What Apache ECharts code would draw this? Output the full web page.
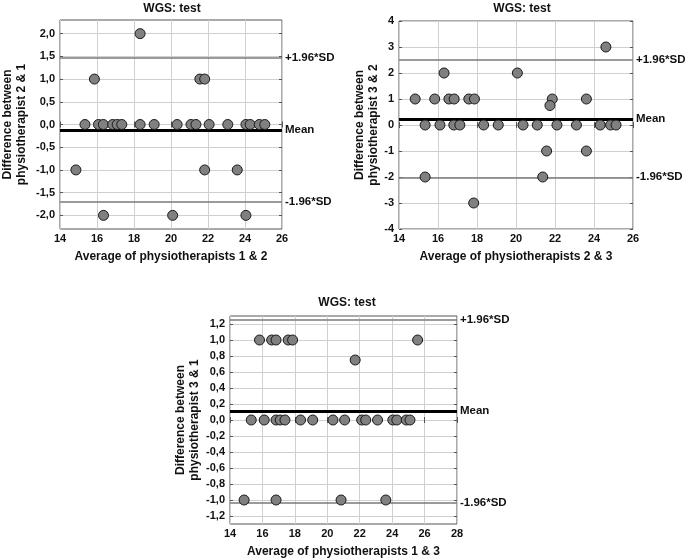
<!DOCTYPE html>
<html><head><meta charset="utf-8">
<script src="https://cdn.jsdelivr.net/npm/echarts@6/dist/echarts.min.js"></script>
<style>html,body{margin:0;padding:0;background:#fff}#c{width:685px;height:560px}</style>
</head><body><div id="c"></div>
<script>
// Panel 1: physiotherapist 2 vs 1
const p1x = [18.33, 15.86, 21.56, 21.82, 15.35, 16.08, 16.34, 16.85, 17.09, 17.34, 18.33, 19.09, 20.33, 21.08, 21.35, 22.06, 23.07, 24.05, 24.28, 24.77, 25.07, 14.86, 21.82, 23.58, 16.35, 20.09, 24.05];
const p1y = [2, 1, 1, 1, 0, 0, 0, 0, 0, 0, 0, 0, 0, 0, 0, 0, 0, 0, 0, 0, 0, -1, -1, -1, -2, -2, -2];
const p1lines = {upper: 1.46, mean: -0.115, lower: -1.70};
const p1yTicks = [-2, -1.5, -1, -0.5, 0, 0.5, 1, 1.5, 2];
const p1xTicks = [14, 16, 18, 20, 22, 24, 26];

// Panel 2: physiotherapist 3 vs 2
const p2x = [24.61, 16.31, 20.07, 14.83, 15.83, 16.56, 16.83, 17.58, 17.87, 21.86, 23.61, 21.74, 15.34, 16.10, 16.81, 17.12, 18.34, 19.09, 20.36, 21.09, 22.10, 23.10, 24.32, 24.85, 25.13, 21.57, 23.61, 15.34, 21.37, 17.83];
const p2y = [3, 2, 2, 1, 1, 1, 1, 1, 1, 1, 1, 0.75, 0, 0, 0, 0, 0, 0, 0, 0, 0, 0, 0, 0, 0, -1, -1, -2, -2, -3];
const p2lines = {upper: 2.5, mean: 0.245, lower: -2.01};
const p2yTicks = [-4, -3, -2, -1, 0, 1, 2, 3, 4];
const p2xTicks = [14, 16, 18, 20, 22, 24, 26];

// Panel 3: physiotherapist 3 vs 1
const p3x = [15.82, 16.57, 16.84, 17.59, 17.86, 25.57, 21.72, 15.31, 16.11, 16.84, 17.10, 17.39, 18.35, 19.10, 20.35, 21.07, 22.12, 22.37, 23.10, 24.04, 24.29, 24.87, 25.10, 14.87, 16.84, 20.85, 23.61];
const p3y = [1, 1, 1, 1, 1, 1, 0.75, 0, 0, 0, 0, 0, 0, 0, 0, 0, 0, 0, 0, 0, 0, 0, 0, -1, -1, -1, -1];
const p3lines = {upper: 1.254, mean: 0.11, lower: -1.033};
const p3yTicks = [-1.2, -1, -0.8, -0.6, -0.4, -0.2, 0, 0.2, 0.4, 0.6, 0.8, 1, 1.2];
const p3xTicks = [14, 16, 18, 20, 22, 24, 26, 28];

const titles = ['WGS: test', 'WGS: test', 'WGS: test'];
const xNames = ['Average of physiotherapists 1 & 2', 'Average of physiotherapists 2 & 3', 'Average of physiotherapists 1 & 3'];
const yNames = ['Difference between\nphysiotherapist 2 & 1', 'Difference between\nphysiotherapist 3 & 2', 'Difference between\nphysiotherapist 3 & 1'];
const lineLabels = ['+1.96*SD', 'Mean', '-1.96*SD'];

const FONT = '"Liberation Sans", Arial, sans-serif';
const panels = [
  {x: p1x, y: p1y, lines: p1lines, yTicks: p1yTicks, xTicks: p1xTicks, ymin: -2.3, ymax: 2.3, dec: 1,
   grid: {left: 53, top: 20, width: 229, height: 209}, tx: 167, ty: -2, yGap: 31},
  {x: p2x, y: p2y, lines: p2lines, yTicks: p2yTicks, xTicks: p2xTicks, ymin: -4, ymax: 4, dec: 0,
   grid: {left: 399, top: 21, width: 234, height: 208}, tx: 517, ty: -2, yGap: 17},
  {x: p3x, y: p3y, lines: p3lines, yTicks: p3yTicks, xTicks: p3xTicks, ymin: -1.3, ymax: 1.3, dec: 1,
   grid: {left: 230, top: 316, width: 227, height: 208}, tx: 342, ty: 292, yGap: 28}
];

function fmt(v, dec) { return v.toFixed(dec).replace('.', ','); }
const labelStyle = {fontFamily: FONT, fontSize: 11, fontWeight: 'bold', color: '#111'};
const tickStyle = {show: true, inside: true, length: 3, lineStyle: {color: '#555', width: 1}};

const xAxes = [], yAxes = [];
panels.forEach((p, i) => {
  const xBase = {type: 'value', gridIndex: i, min: p.xTicks[0], max: p.xTicks[p.xTicks.length - 1], interval: 2};
  xAxes.push(Object.assign({}, xBase, {
    name: xNames[i], nameLocation: 'middle', nameGap: 22,
    nameTextStyle: {fontFamily: FONT, fontSize: 12, fontWeight: 'bold', color: '#111'},
    axisLine: {show: false}, axisTick: tickStyle,
    axisLabel: Object.assign({margin: 4}, labelStyle),
    splitLine: {show: true, lineStyle: {color: '#d0d0d0', width: 1}}
  }));
  xAxes.push(Object.assign({}, xBase, {
    position: 'top', axisLine: {show: false}, axisTick: tickStyle, axisLabel: {show: false}, splitLine: {show: false}
  }));
  const yBase = {type: 'value', gridIndex: i, min: p.ymin, max: p.ymax};
  yAxes.push(Object.assign({}, yBase, {
    name: yNames[i], nameLocation: 'middle', nameGap: p.yGap, nameRotate: 90,
    nameTextStyle: {fontFamily: FONT, fontSize: 12, fontWeight: 'bold', color: '#111', lineHeight: 14},
    axisLine: {show: false},
    axisTick: Object.assign({customValues: p.yTicks}, tickStyle),
    axisLabel: Object.assign({customValues: p.yTicks, formatter: v => fmt(v, p.dec), margin: 5}, labelStyle),
    splitLine: {show: true, lineStyle: {color: '#d0d0d0', width: 1}}
  }));
  yAxes.push(Object.assign({}, yBase, {
    position: 'right', axisLine: {show: false},
    axisTick: Object.assign({customValues: p.yTicks}, tickStyle),
    axisLabel: {show: false}, splitLine: {show: false}
  }));
});

const option = {
  animation: false,
  backgroundColor: '#fff',
  title: panels.map((p, i) => ({
    text: titles[i], left: p.tx, top: p.ty, textAlign: 'center',
    textStyle: {fontFamily: FONT, fontSize: 12, fontWeight: 'bold', color: '#111'}
  })),
  grid: panels.map(p => Object.assign({show: true, borderColor: '#555', borderWidth: 1, backgroundColor: '#fff', containLabel: false}, p.grid)),
  xAxis: xAxes,
  yAxis: yAxes,
  series: panels.map((p, i) => ({
    type: 'scatter', xAxisIndex: 2 * i, yAxisIndex: 2 * i,
    data: p.x.map((v, k) => [v, p.y[k]]),
    symbol: 'circle', symbolSize: 10,
    itemStyle: {color: '#808080', borderColor: '#1a1a1a', borderWidth: 1, opacity: 1},
    z: 5,
    markLine: {
      silent: true, symbol: 'none', animation: false,
      label: {show: true, position: 'end', distance: 3, fontFamily: FONT, fontSize: 11.5, fontWeight: 'bold', color: '#111'},
      data: [
        {yAxis: p.lines.upper, label: {formatter: lineLabels[0]}, lineStyle: {color: '#7a7a7a', width: 1.5, type: 'solid'}},
        {yAxis: p.lines.mean, label: {formatter: lineLabels[1]}, lineStyle: {color: '#000', width: 3, type: 'solid'}},
        {yAxis: p.lines.lower, label: {formatter: lineLabels[2]}, lineStyle: {color: '#7a7a7a', width: 1.5, type: 'solid'}}
      ]
    }
  }))
};
const chart = echarts.init(document.getElementById('c'), null, {renderer: 'canvas'});
chart.setOption(option);
</script>
</body></html>
